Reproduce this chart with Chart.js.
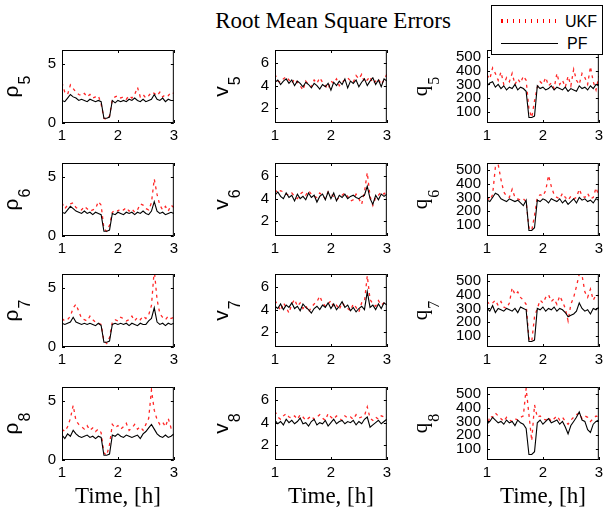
<!DOCTYPE html>
<html>
<head>
<meta charset="utf-8">
<title>Root Mean Square Errors</title>
<script src="https://cdn.jsdelivr.net/npm/chart.js@4.4.0/dist/chart.umd.min.js"></script>
<style>
  body { margin: 0; width: 603px; height: 512px; overflow: hidden; background: #fff; position: relative; }
  canvas.sub { position: absolute; }
  #title { position: absolute; left: 133px; width: 400px; top: 9px; line-height: 23px; text-align: center;
           font-family: "Liberation Serif", serif; font-size: 23px; color: #000; }
  #legend { position: absolute; left: 491px; top: 5px; width: 112px; height: 50px; box-sizing: border-box;
            border: 1px solid #000; background: #fff; z-index: 5; font-family: "Liberation Sans", Arial, sans-serif; font-size: 16px; }
  .row { position: absolute; left: 0; height: 18px; line-height: 18px; width: 110px; }
  .row span { position: absolute; }
  .ukfLine { position: absolute; left: 9px; top: 6px; width: 56px; height: 4px;
             background: repeating-linear-gradient(to right, #f00 0, #f00 1.5px, transparent 1.5px, transparent 6px); }
  .pfLine { position: absolute; left: 9px; top: 8px; width: 57px; height: 1px; background: #000; }
</style>
</head>
<body>
<div id="title">Root Mean Square Errors</div>
<div id="legend">
  <div class="row" style="top:7px"><div class="ukfLine"></div><span style="left:73px">UKF</span></div>
  <div class="row" style="top:29px"><div class="pfLine"></div><span style="left:75px">PF</span></div>
</div>

<script>
// time axis, hours
const time = [1, 1.05, 1.1, 1.15, 1.2, 1.25, 1.3, 1.35, 1.4, 1.45, 1.5, 1.55, 1.6, 1.65, 1.7, 1.75, 1.8, 1.85, 1.9, 1.95,
  2, 2.05, 2.1, 2.15, 2.2, 2.25, 2.3, 2.35, 2.4, 2.45, 2.5, 2.55, 2.6, 2.65, 2.7, 2.75, 2.8, 2.85, 2.9, 2.95, 3];

const timeTicks = [1, 2, 3];
const rhoTicks = [0, 5];
const vTicks = [2, 4, 6];
const qTicks = [100, 200, 300, 400, 500];

// density rho
const rho5Ukf = [3.4,2.6,2.4,3.2,2.9,2.6,2.4,2.3,2.5,2.2,2.4,2.1,2.2,2.3,1.6,0.4,0.3,0.6,2.0,2.2,2.3,2.1,2.2,2.0,2.3,2.1,2.4,3.0,2.2,2.4,2.1,2.3,2.6,2.5,2.3,2.6,2.2,2.4,2.3,2.6,2.5];
const rho5Pf  = [1.9,1.8,2.1,2.4,2.2,2.1,1.9,2.0,1.9,1.8,2.0,1.9,1.8,1.9,1.8,0.4,0.4,0.5,1.9,1.7,1.9,1.8,1.9,1.8,2.0,1.9,2.1,1.9,1.8,2.0,1.8,1.9,2.0,2.4,2.0,1.9,2.1,1.8,2.0,1.9,1.9];
const rho6Ukf = [2.8,2.3,2.6,2.7,2.8,2.4,2.3,2.2,2.5,2.3,2.1,2.2,2.3,2.9,2.6,0.6,0.4,0.9,2.0,2.2,2.1,2.3,2.2,2.4,2.1,2.3,2.0,2.2,2.7,2.6,2.3,2.2,2.8,4.8,3.5,2.6,2.2,2.5,2.1,2.6,2.4];
const rho6Pf  = [2.0,1.9,2.2,2.5,2.3,2.1,2.0,1.9,2.1,1.9,2.0,1.8,2.0,1.9,1.8,0.4,0.4,0.5,1.9,1.8,2.0,1.9,1.8,2.0,1.9,2.0,1.8,2.0,1.9,2.1,1.9,1.8,2.1,2.9,2.1,1.9,2.0,1.8,1.9,2.0,1.9];
const rho7Ukf = [2.4,2.2,2.3,2.6,3.3,3.6,3.0,2.4,2.3,2.2,2.6,2.3,2.1,2.0,1.9,0.5,0.3,0.8,2.1,2.3,2.2,2.5,2.4,2.2,2.3,2.6,2.2,2.5,2.3,2.6,2.4,2.7,3.5,6.5,4.0,2.8,2.5,2.3,2.6,2.4,2.5];
const rho7Pf  = [2.0,1.9,2.0,2.1,2.5,2.1,2.0,1.9,2.0,1.9,2.0,1.9,1.8,2.0,1.8,0.4,0.4,0.5,1.9,2.0,1.9,2.0,1.9,2.0,1.8,2.0,1.9,1.8,2.0,1.9,1.9,2.2,2.4,3.3,2.1,1.9,2.0,1.8,2.0,1.9,2.0];
const rho8Ukf = [2.6,2.4,2.8,3.5,4.6,3.3,3.0,2.8,2.6,2.9,2.5,2.7,2.4,2.6,2.3,0.6,0.4,1.3,3.0,2.7,2.9,2.6,2.8,3.1,2.5,2.7,3.0,2.6,2.8,2.5,3.0,3.5,5.9,4.2,3.4,3.0,3.2,2.8,3.5,2.7,2.9];
const rho8Pf  = [2.1,1.8,2.2,2.0,2.5,2.2,2.0,1.9,2.0,2.1,1.9,2.0,1.8,2.0,1.9,0.4,0.4,0.5,2.1,2.0,2.2,2.0,1.9,2.1,2.0,1.9,2.0,2.1,1.8,2.2,2.4,2.7,3.0,2.6,2.2,2.0,1.9,2.1,1.9,2.0,2.2];

// speed v
const v5Ukf = [5.0,4.4,4.3,4.6,4.8,4.5,4.2,4.6,4.3,4.0,3.6,4.4,4.1,3.9,4.5,4.2,4.7,4.3,4.0,3.7,4.4,4.2,4.6,4.0,4.3,4.5,4.7,4.4,4.3,4.9,4.6,5.0,4.3,4.5,4.8,4.2,4.4,4.6,4.1,4.5,5.0];
const v5Pf  = [4.3,4.5,4.1,4.4,4.6,4.2,4.5,4.0,4.4,4.2,3.9,4.3,4.1,3.8,4.2,4.0,3.7,4.1,3.9,4.2,3.6,4.3,4.0,4.4,4.1,4.6,3.8,4.4,4.2,4.5,3.9,4.3,4.6,4.0,4.4,4.7,4.1,4.5,3.9,4.6,4.4];
const v6Ukf = [4.8,4.5,4.7,4.6,4.4,4.3,4.5,4.2,4.0,4.4,4.6,4.3,4.7,4.4,4.2,4.1,4.5,4.3,4.0,4.6,4.4,4.2,3.9,4.1,4.3,4.5,4.2,3.8,3.9,4.4,4.0,3.5,4.6,6.3,4.2,3.4,4.1,4.3,4.6,4.4,4.7];
const v6Pf  = [4.3,4.6,4.2,4.0,4.5,4.1,4.3,3.8,4.4,4.0,4.2,3.9,4.5,4.1,4.3,3.7,4.2,4.4,3.9,4.6,4.0,4.5,3.8,4.3,4.1,4.4,4.0,4.2,4.3,4.1,4.0,4.2,4.3,5.1,4.0,3.5,4.3,3.9,4.4,4.2,4.4];
const v7Ukf = [4.8,4.4,3.9,4.6,4.2,3.7,4.5,4.9,4.3,4.6,4.1,4.4,3.8,4.2,4.5,4.7,5.2,4.6,4.3,4.5,4.8,4.2,4.4,4.0,4.6,4.3,4.1,3.9,4.5,4.2,3.8,4.6,4.7,7.0,4.9,4.5,4.3,4.8,4.4,4.6,4.9];
const v7Pf  = [4.3,4.1,4.5,4.0,4.4,4.2,4.6,4.1,4.3,3.9,4.5,4.2,4.0,3.7,4.1,4.3,4.0,4.4,4.2,4.6,4.1,4.5,4.0,4.3,4.7,4.2,4.4,3.9,4.2,3.8,4.1,4.3,4.0,5.6,4.2,4.4,4.0,4.5,4.1,4.6,4.4];
const v8Ukf = [5.0,4.5,4.3,4.6,4.8,4.5,4.4,4.6,4.3,4.7,4.5,4.2,4.4,4.6,4.3,4.5,4.7,4.4,4.2,4.8,4.5,4.3,4.6,4.4,4.2,4.6,4.4,4.5,4.3,4.7,4.4,4.5,4.6,5.4,4.4,4.2,4.5,4.3,4.6,4.5,4.7];
const v8Pf  = [4.2,3.9,4.1,3.8,4.3,4.0,4.2,3.9,4.1,4.4,3.9,4.0,3.7,4.1,4.3,3.8,4.0,3.9,4.2,3.7,4.0,4.3,3.9,4.1,4.2,3.9,4.1,4.0,4.2,3.8,4.1,3.9,4.3,4.5,3.6,3.8,4.0,4.2,3.9,4.1,4.3];

// flow q
const q5Ukf = [370,340,420,380,330,390,300,350,320,380,300,340,310,360,330,120,60,180,280,320,300,350,290,310,270,380,300,330,280,360,290,410,330,300,380,350,300,430,320,260,360];
const q5Pf  = [290,310,320,280,300,270,290,260,280,270,300,260,280,270,250,60,60,70,290,270,280,260,270,290,260,280,270,260,280,250,270,260,250,290,270,280,260,290,270,300,290];
const q6Ukf = [300,280,320,520,540,430,340,310,300,360,300,290,280,290,270,80,60,170,300,320,310,350,460,380,320,300,290,330,300,280,310,290,300,360,310,300,330,290,300,370,310];
const q6Pf  = [280,270,300,330,320,290,280,270,290,280,270,280,260,240,280,60,60,80,280,270,290,280,260,290,280,270,290,260,280,250,270,290,260,300,280,290,270,280,260,290,280];
const q7Ukf = [350,330,340,360,320,350,310,300,340,450,400,420,380,360,330,80,60,240,300,360,340,380,400,350,370,330,390,350,300,210,330,380,460,550,540,420,380,440,360,400,390];
const q7Pf  = [300,280,320,270,300,290,280,300,290,280,300,270,310,300,290,60,60,70,300,290,310,280,300,290,310,280,300,290,270,240,250,260,280,340,300,280,290,260,300,290,310];
const q8Ukf = [250,340,330,360,340,320,300,330,310,300,320,310,330,340,540,350,160,420,330,340,320,310,330,300,320,340,310,330,300,280,310,330,350,360,320,340,330,300,320,340,330];
const q8Pf  = [280,300,330,310,290,300,280,310,290,300,270,310,290,280,250,60,60,80,290,310,280,300,320,290,300,310,280,300,260,210,270,300,330,370,310,300,240,220,280,300,310];

// page layout of the 4x3 grid (box corners of each axes)
const colLeft = [62, 275, 487];
const rowTop = [43, 156, 267, 380];
const boxW = 114;
const boxH = 80;
const padLeft = 75, padTop = 8, padRight = 6, padBottom = 50;

const kinds = {
  rho: { min: 0, max: 6.15, ticks: rhoTicks, name: "ρ", family: "Liberation Sans", offset: 44 },
  v:   { min: 0.7, max: 7.15, ticks: vTicks, name: "v", family: "Liberation Sans", offset: 47 },
  q:   { min: 20, max: 550, ticks: qTicks, name: "q", family: "Liberation Serif", offset: 60 }
};

const panels = [
  { row: 0, col: 0, kind: "rho", sub: "5", ukf: rho5Ukf, pf: rho5Pf },
  { row: 0, col: 1, kind: "v", sub: "5", ukf: v5Ukf, pf: v5Pf },
  { row: 0, col: 2, kind: "q", sub: "5", ukf: q5Ukf, pf: q5Pf },
  { row: 1, col: 0, kind: "rho", sub: "6", ukf: rho6Ukf, pf: rho6Pf },
  { row: 1, col: 1, kind: "v", sub: "6", ukf: v6Ukf, pf: v6Pf },
  { row: 1, col: 2, kind: "q", sub: "6", ukf: q6Ukf, pf: q6Pf },
  { row: 2, col: 0, kind: "rho", sub: "7", ukf: rho7Ukf, pf: rho7Pf },
  { row: 2, col: 1, kind: "v", sub: "7", ukf: v7Ukf, pf: v7Pf },
  { row: 2, col: 2, kind: "q", sub: "7", ukf: q7Ukf, pf: q7Pf },
  { row: 3, col: 0, kind: "rho", sub: "8", ukf: rho8Ukf, pf: rho8Pf },
  { row: 3, col: 1, kind: "v", sub: "8", ukf: v8Ukf, pf: v8Pf },
  { row: 3, col: 2, kind: "q", sub: "8", ukf: q8Ukf, pf: q8Pf }
];

// box around the axes with matlab style inward ticks
const framePlugin = {
  id: "frame",
  afterDatasetsDraw(chart) {
    const ctx = chart.ctx;
    const a = chart.chartArea;
    const xs = chart.scales.x;
    const ys = chart.scales.y;
    ctx.save();
    ctx.strokeStyle = "#000";
    ctx.lineWidth = 1;
    ctx.strokeRect(a.left + 0.5, a.top + 0.5, a.right - a.left - 1, a.bottom - a.top - 1);
    ctx.beginPath();
    xs.ticks.forEach((t) => {
      let px = Math.round(xs.getPixelForValue(t.value)) + 0.5;
      ctx.moveTo(px, a.bottom);
      ctx.lineTo(px, a.bottom - 3);
      ctx.moveTo(px, a.top);
      ctx.lineTo(px, a.top + 3);
    });
    ys.ticks.forEach((t) => {
      let py = Math.round(ys.getPixelForValue(t.value)) + 0.5;
      ctx.moveTo(a.left, py);
      ctx.lineTo(a.left + 3, py);
      ctx.moveTo(a.right, py);
      ctx.lineTo(a.right - 3, py);
    });
    ctx.stroke();
    ctx.restore();
  }
};

// rotated y name with a subscript, and the time label under the last row
const namesPlugin = {
  id: "names",
  afterDraw(chart, args, opts) {
    const ctx = chart.ctx;
    const a = chart.chartArea;
    ctx.save();
    ctx.fillStyle = "#000";
    ctx.textBaseline = "alphabetic";
    let mainFont = "21px '" + opts.family + "'";
    let subFont = "16px '" + opts.family + "'";
    ctx.font = mainFont;
    let w1 = ctx.measureText(opts.main).width;
    ctx.font = subFont;
    let w2 = ctx.measureText(opts.sub).width;
    ctx.translate(a.left - opts.offset, (a.top + a.bottom) / 2 + (w1 + w2 + 1) / 2);
    ctx.rotate(-Math.PI / 2);
    ctx.font = mainFont;
    ctx.fillText(opts.main, 0, 0);
    ctx.font = subFont;
    ctx.fillText(opts.sub, w1 + 1, 12);
    ctx.restore();

    if (opts.xname) {
      ctx.save();
      ctx.fillStyle = "#000";
      ctx.font = "23px 'Liberation Serif'";
      ctx.textAlign = "center";
      ctx.textBaseline = "alphabetic";
      ctx.fillText(opts.xname, (a.left + a.right) / 2, a.bottom + 43);
      ctx.restore();
    }
  }
};

function toPoints(values) {
  return values.map((y, i) => ({ x: time[i], y: y }));
}

function makePanel(p) {
  const k = kinds[p.kind];
  const cv = document.createElement("canvas");
  cv.className = "sub";
  cv.width = padLeft + boxW + padRight;
  cv.height = padTop + boxH + padBottom;
  cv.style.left = (colLeft[p.col] - padLeft) + "px";
  cv.style.top = (rowTop[p.row] - padTop) + "px";
  document.body.appendChild(cv);

  new Chart(cv.getContext("2d"), {
    type: "line",
    data: {
      datasets: [
        {
          label: "UKF",
          data: toPoints(p.ukf),
          borderColor: "rgba(255, 0, 0, 0.85)",
          borderWidth: 1.3,
          borderDash: [3, 4],
          pointRadius: 0,
          tension: 0,
          order: 2
        },
        {
          label: "PF",
          data: toPoints(p.pf),
          borderColor: "#000000",
          borderWidth: 1.1,
          pointRadius: 0,
          tension: 0,
          order: 1
        }
      ]
    },
    options: {
      responsive: false,
      maintainAspectRatio: false,
      animation: false,
      events: [],
      layout: { padding: { top: padTop, right: padRight, left: 0, bottom: 0 } },
      plugins: {
        legend: { display: false },
        tooltip: { enabled: false },
        names: {
          main: k.name,
          sub: p.sub,
          family: k.family,
          offset: k.offset,
          xname: p.row === 3 ? "Time, [h]" : ""
        }
      },
      scales: {
        x: {
          type: "linear",
          min: 1,
          max: 3,
          grid: { display: false, drawTicks: false },
          border: { display: false },
          afterBuildTicks: (s) => { s.ticks = timeTicks.map((v) => ({ value: v })); },
          afterFit: (s) => { s.height = padBottom; },
          ticks: {
            autoSkip: false,
            maxRotation: 0,
            padding: 4,
            color: "#000",
            font: { family: "Liberation Sans", size: 15 }
          }
        },
        y: {
          min: k.min,
          max: k.max,
          grid: { display: false, drawTicks: false },
          border: { display: false },
          afterBuildTicks: (s) => { s.ticks = k.ticks.map((v) => ({ value: v })); },
          afterFit: (s) => { s.width = padLeft; },
          ticks: {
            autoSkip: false,
            padding: 6,
            color: "#000",
            font: { family: "Liberation Sans", size: 15 }
          }
        }
      }
    },
    plugins: [framePlugin, namesPlugin]
  });
}

panels.forEach(makePanel);
</script>
</body>
</html>
